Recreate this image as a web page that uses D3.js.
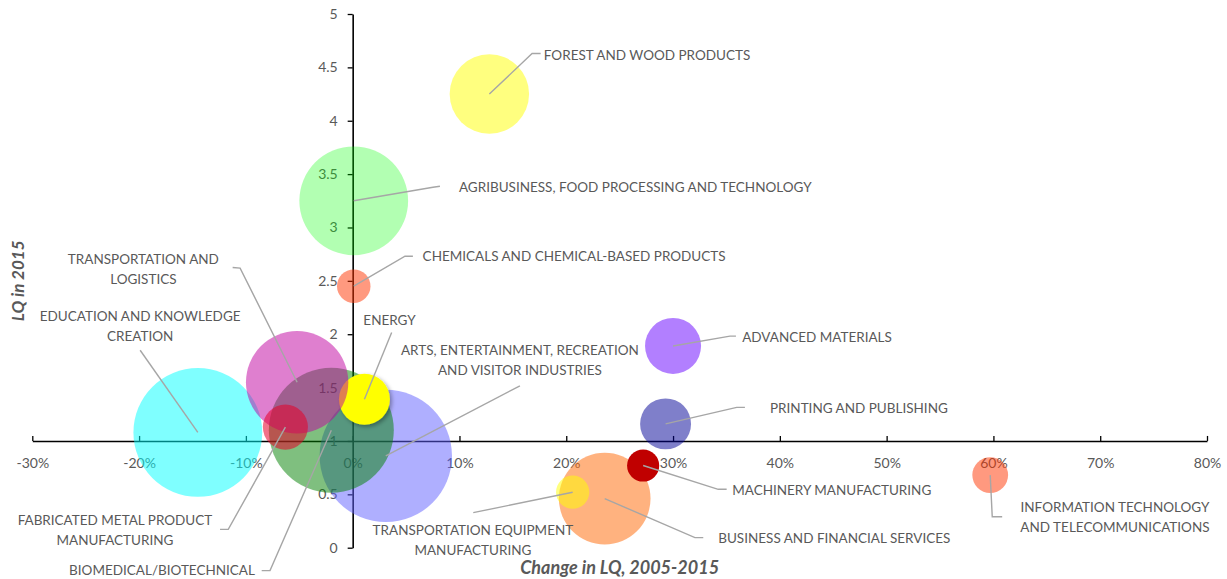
<!DOCTYPE html>
<html>
<head>
<meta charset="utf-8">
<script src="https://cdn.jsdelivr.net/npm/d3@7"></script>
<style>
  body { margin: 0; background: #fff; }
  text { font-family: Lato, "Open Sans", sans-serif; }
</style>
</head>
<body>
<div id="container"></div>
<script>
/**
 * DATA
 * */
const sectors = [
  "FOREST AND WOOD PRODUCTS",
  "AGRIBUSINESS, FOOD PROCESSING AND TECHNOLOGY",
  "CHEMICALS AND CHEMICAL-BASED PRODUCTS",
  "TRANSPORTATION AND\nLOGISTICS",
  "EDUCATION AND KNOWLEDGE\nCREATION",
  "FABRICATED METAL PRODUCT\nMANUFACTURING",
  "BIOMEDICAL/BIOTECHNICAL",
  "ENERGY",
  "ARTS, ENTERTAINMENT, RECREATION\nAND VISITOR INDUSTRIES",
  "ADVANCED MATERIALS",
  "PRINTING AND PUBLISHING",
  "MACHINERY MANUFACTURING",
  "BUSINESS AND FINANCIAL SERVICES",
  "TRANSPORTATION EQUIPMENT\nMANUFACTURING",
  "INFORMATION TECHNOLOGY\nAND TELECOMMUNICATIONS"
];
const changeLQ = [0.128, 0.001, 0.001, -0.052, -0.145, -0.063, -0.020, 0.011, 0.031, 0.300, 0.293, 0.272, 0.236, 0.206, 0.597];
const lq2015   = [4.25, 3.25, 2.45, 1.55, 1.08, 1.13, 1.10, 1.39, 0.86, 1.89, 1.16, 0.77, 0.46, 0.52, 0.68];
const bubbleSize = [360, 675, 64, 598, 946, 116, 891, 148, 1000, 179, 148, 59, 479, 63, 73];

const xTicks = [-0.3, -0.2, -0.1, 0, 0.1, 0.2, 0.3, 0.4, 0.5, 0.6, 0.7, 0.8];
const yTicks = [0, 0.5, 1, 1.5, 2, 2.5, 3, 3.5, 4, 4.5, 5];

/**
 * STYLE / LAYOUT
 * */
const width = 1227, height = 579;
const colours = [
  "rgba(255,255,0,0.5)", "rgba(0,255,0,0.3)", "rgba(255,51,0,0.5)", "rgba(192,0,160,0.5)",
  "rgba(0,255,255,0.5)", "rgba(230,0,40,0.55)", "rgba(0,128,0,0.5)", "#ffff00",
  "rgba(96,96,255,0.5)", "rgba(102,0,255,0.5)", "rgba(0,0,150,0.5)", "#c00000",
  "rgba(255,102,0,0.5)", "rgba(255,255,0,0.5)", "rgba(255,51,0,0.5)"
];
// which bubble sits on top of which
const drawOrder = [4, 8, 6, 7, 3, 5, 1, 2, 0, 9, 10, 12, 11, 13, 14];

// label position + leader elbow, in data units
const labelLayout = [
  { anchor: "start",  at: [0.179, 4.61],   elbow: [[0.168, 4.63], [0.176, 4.63]] },
  { anchor: "start",  at: [0.0995, 3.38],  elbow: [[0.0752, 3.377], [0.0817, 3.386]] },
  { anchor: "start",  at: [0.0655, 2.731], elbow: [[0.049, 2.731], [0.0564, 2.731]] },
  { anchor: "middle", at: [-0.196, 2.61],  elbow: [[-0.1054, 2.619], [-0.1124, 2.625]] },
  { anchor: "middle", at: [-0.199, 2.079], elbow: [[-0.199, 1.85]] },
  { anchor: "middle", at: [-0.2226, 0.166], elbow: [[-0.1165, 0.172], [-0.1242, 0.172]] },
  { anchor: "end",    at: [-0.0915, -0.215], elbow: [[-0.0774, -0.215], [-0.0852, -0.215]] },
  { anchor: "middle", at: [0.0345, 2.132], elbow: [[0.0365, 2.017]] },
  { anchor: "middle", at: [0.1566, 1.757], elbow: [[0.1566, 1.517]] },
  { anchor: "start",  at: [0.3648, 1.97],  elbow: [[0.3533, 1.982], [0.3589, 1.982]] },
  { anchor: "start",  at: [0.3908, 1.305], elbow: [[0.3596, 1.315], [0.3673, 1.315]] },
  { anchor: "start",  at: [0.3554, 0.534], elbow: [[0.3423, 0.547], [0.3502, 0.547]] },
  { anchor: "start",  at: [0.3423, 0.088], elbow: [[0.3205, 0.094], [0.3283, 0.094]] },
  { anchor: "middle", at: [0.1126, 0.066], elbow: [[0.1129, 0.328]] },
  { anchor: "middle", at: [0.7138, 0.287], elbow: [[0.5989, 0.290], [0.6082, 0.290]] }
];

const labelFont = 13.5, lineH = 20;

/**
 * DRAW
 * */
const svg = d3.select("#container")
  .append("svg")
  .attr("width", width)
  .attr("height", height);

const x = d3.scaleLinear().domain([-0.3, 0.8]).range([32.3, 1207]);
const y = d3.scaleLinear().domain([0, 5]).range([547.7, 14]);
const r = d3.scaleSqrt().domain([0, d3.max(bubbleSize)]).range([0, 66.2]);

// shadow for the solid yellow bubble
const defs = svg.append("defs");
defs.append("filter").attr("id", "shadow")
  .attr("x", "-30%").attr("y", "-30%").attr("width", "160%").attr("height", "160%")
  .append("feDropShadow")
  .attr("dx", 2).attr("dy", 2).attr("stdDeviation", 2)
  .attr("flood-color", "#000").attr("flood-opacity", 0.35);

// axes
const xAxis = d3.axisBottom(x)
  .tickValues(xTicks)
  .tickFormat(d => Math.round(d * 100) + "%")
  .tickSizeInner(-5).tickSizeOuter(0).tickPadding(17);
const yAxis = d3.axisLeft(y)
  .tickValues(yTicks)
  .tickFormat(d3.format("~g"))
  .tickSizeInner(5).tickSizeOuter(0).tickPadding(10);

const gx = svg.append("g").attr("transform", `translate(0,${y(1)})`).call(xAxis);
const gy = svg.append("g").attr("transform", `translate(${x(0)},0)`).call(yAxis);

[gx, gy].forEach(g => {
  g.select(".domain").attr("stroke", "#000").attr("stroke-width", 1.6);
  g.selectAll(".tick line").attr("stroke", "#000").attr("stroke-width", 1.3);
  g.selectAll(".tick text")
    .attr("fill", "#595959")
    .style("font-size", "14px")
    .style("font-family", "Lato, 'Open Sans', sans-serif");
});

// bubbles
svg.append("g")
  .selectAll("circle")
  .data(drawOrder)
  .join("circle")
  .attr("cx", i => x(changeLQ[i]))
  .attr("cy", i => y(lq2015[i]))
  .attr("r", i => r(bubbleSize[i]))
  .attr("fill", i => colours[i])
  .attr("filter", i => i === 7 ? "url(#shadow)" : null);

// leader lines
const leader = d3.line().x(d => x(d[0])).y(d => y(d[1]));
svg.append("g")
  .selectAll("path")
  .data(sectors.map((s, i) => i))
  .join("path")
  .attr("d", i => leader([[changeLQ[i], lq2015[i]], ...labelLayout[i].elbow]))
  .attr("fill", "none")
  .attr("stroke", "#a6a6a6")
  .attr("stroke-width", 1.4);

// labels
const labels = svg.append("g")
  .selectAll("text")
  .data(sectors.map((s, i) => i))
  .join("text")
  .attr("text-anchor", i => labelLayout[i].anchor)
  .attr("fill", "#595959")
  .style("font-size", labelFont + "px");

labels.each(function (i) {
  const lines = sectors[i].split("\n");
  const cx = x(labelLayout[i].at[0]);
  const cy = y(labelLayout[i].at[1]) - (lines.length - 1) * lineH / 2 + labelFont * 0.35;
  d3.select(this).selectAll("tspan")
    .data(lines)
    .join("tspan")
    .attr("x", cx)
    .attr("y", (d, k) => cy + k * lineH)
    .text(d => d);
});

// axis titles
svg.append("text")
  .attr("x", (x.range()[0] + x.range()[1]) / 2)
  .attr("y", 574)
  .attr("text-anchor", "middle")
  .attr("fill", "#595959")
  .style("font-size", "18px")
  .style("font-weight", "bold")
  .style("font-style", "italic")
  .text("Change in LQ, 2005-2015");

svg.append("text")
  .attr("transform", `translate(24,${(y.range()[0] + y.range()[1]) / 2}) rotate(-90)`)
  .attr("text-anchor", "middle")
  .attr("fill", "#595959")
  .style("font-size", "17px")
  .style("font-weight", "bold")
  .style("font-style", "italic")
  .text("LQ in 2015");
</script>
</body>
</html>
